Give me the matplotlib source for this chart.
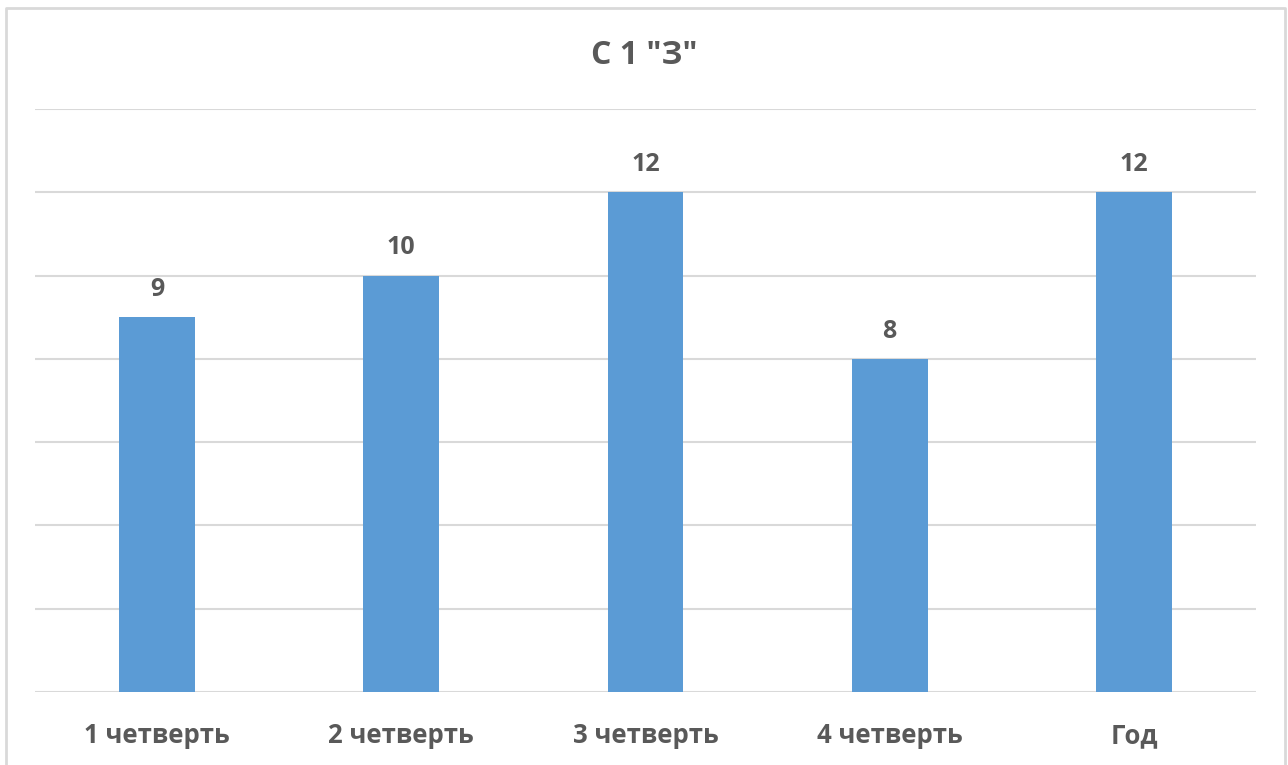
import matplotlib.pyplot as plt
from matplotlib.lines import Line2D

categories = ["1 четверть", "2 четверть", "3 четверть", "4 четверть", "Год"]
values = [9, 10, 12, 8, 12]
title = 'С 1 "З"'

plt.rcParams["font.family"] = ["Open Sans", "DejaVu Sans"]
text_color = "#595959"
grid_color = "#D9D9D9"

fig = plt.figure(figsize=(12.88, 7.65), dpi=100)
ax = fig.add_axes([35 / 1288, 1 - 692 / 765, (1256 - 35) / 1288, (692 - 109) / 765])

x = range(len(categories))
bars = ax.bar(x, values, width=0.31, color="#5B9BD5", zorder=3)
ax.bar_label(bars, padding=11, fontsize=18, fontweight="bold", color=text_color)

ax.set_xlim(-0.5, len(categories) - 0.5)
ax.set_ylim(0, 14)
ax.set_yticks(range(0, 15, 2))
ax.yaxis.grid(True, color=grid_color, linewidth=1.5, zorder=0)
ax.tick_params(left=False, labelleft=False, bottom=False)
ax.set_xticks(list(x))
ax.set_xticklabels(categories, fontsize=18.5, fontweight="bold", color=text_color)
ax.tick_params(axis="x", pad=18)
for s in ax.spines.values():
    s.set_visible(False)

fig.text(0.5, 1 - 55 / 765, title, ha="center", va="center", fontsize=23,
         fontweight="bold", color=text_color)

# chart border
bx0, bx1, by0 = 6 / 1288, 1285 / 1288, 1 - 8 / 765
fig.add_artist(Line2D([bx0, bx0, bx1, bx1], [0, by0, by0, 0],
                      transform=fig.transFigure, color=grid_color, linewidth=2))

fig.savefig("out.png", dpi=100)
